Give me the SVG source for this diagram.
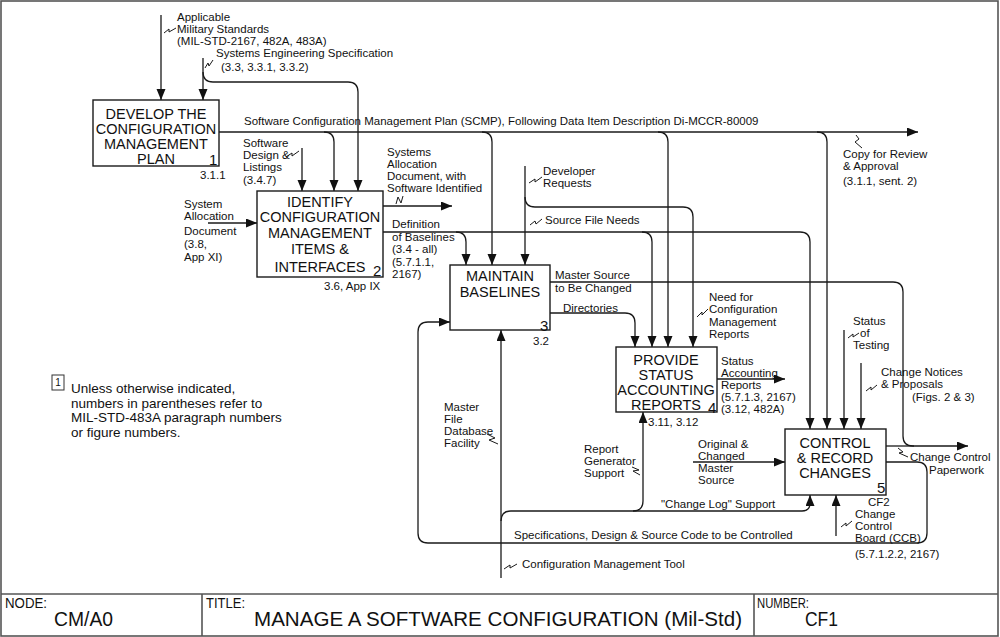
<svg xmlns="http://www.w3.org/2000/svg" width="1000" height="637" viewBox="0 0 1000 637">
<style>
text{font-family:"Liberation Sans",Arial,sans-serif;fill:#111}
.l{font-size:11.5px}
.b{font-size:14.5px;text-anchor:middle}
.n{font-size:15px}
.lg{font-size:13.5px}
.c{fill:none;stroke:#1a1a1a;stroke-width:1.3}
.a{marker-end:url(#ah)}
.sq{fill:none;stroke:#1a1a1a;stroke-width:1}
.box{fill:#fff;stroke:#1a1a1a;stroke-width:1.4}
.frame{fill:none;stroke:#555;stroke-width:1.6}
.tb{font-family:"Liberation Sans Narrow","Liberation Sans",Arial,sans-serif}
</style>
<defs>
<marker id="ah" markerUnits="userSpaceOnUse" markerWidth="12" markerHeight="10" refX="11" refY="4.5" orient="auto">
<path d="M0,0 L11,4.5 L0,9 Z" fill="#111"/>
</marker>
</defs>
<rect width="1000" height="637" fill="#fff"/>
<g id="frame">
<rect class="frame" x="1" y="1" width="997" height="635"/>
<line class="frame" x1="1" y1="594" x2="998" y2="594"/>
<line class="frame" x1="202" y1="594" x2="202" y2="636"/>
<line class="frame" x1="754" y1="594" x2="754" y2="636"/>
<text class="tb" x="5" y="608" font-size="15" textLength="42" lengthAdjust="spacingAndGlyphs">NODE:</text>
<text class="tb" x="54" y="626" font-size="20" textLength="59" lengthAdjust="spacingAndGlyphs">CM/A0</text>
<text class="tb" x="206" y="608" font-size="15" textLength="39" lengthAdjust="spacingAndGlyphs">TITLE:</text>
<text class="tb" x="254" y="626" font-size="20" textLength="488" lengthAdjust="spacingAndGlyphs">MANAGE A SOFTWARE CONFIGURATION (Mil-Std)</text>
<text class="tb" x="757" y="608" font-size="15" textLength="52" lengthAdjust="spacingAndGlyphs">NUMBER:</text>
<text class="tb" x="805" y="626" font-size="20" textLength="33" lengthAdjust="spacingAndGlyphs">CF1</text>
</g>
<g id="connectors">
<path class="c a" d="M161,15 V100"/>
<path class="c a" d="M203,58 V100"/>
<path class="c a" d="M203,72 Q203,82 213,82 H348 Q358,82 358,92 V191"/>
<path class="c a" d="M219,132 H918"/>
<path class="c a" d="M324,132 Q334,132 334,142 V191"/>
<path class="c a" d="M482,132 Q492,132 492,142 V265"/>
<path class="c a" d="M658,132 Q668,132 668,142 V347"/>
<path class="c a" d="M817,132 Q827,132 827,142 V429"/>
<path class="c a" d="M302,148 V191"/>
<path class="c a" d="M208,223 H257"/>
<path class="c a" d="M383,206 H452"/>
<path class="c a" d="M383,232 H800 Q810,232 810,242 V429"/>
<path class="c a" d="M456,232 Q466,232 466,242 V265"/>
<path class="c a" d="M642,232 Q652,232 652,242 V347"/>
<path class="c a" d="M525,166 V265"/>
<path class="c a" d="M525,197 Q525,207 535,207 H683 Q693,207 693,217 V347"/>
<path class="c a" d="M550,282 H893 Q903,282 903,292 V436 Q903,446 913,446 H968"/>
<path class="c" d="M886,446 H914"/>
<path class="c a" d="M550,313 H625 Q635,313 635,323 V347"/>
<path class="c a" d="M886,462 H917 Q927,462 927,472 V533 Q927,543 917,543 H428 Q418,543 418,533 V332 Q418,322 428,322 H450"/>
<path class="c a" d="M501,578 V330"/>
<path class="c a" d="M501,521 Q501,511 511,511 H802 Q810,511 810,503 V495"/>
<path class="c a" d="M633,511 Q643,511 643,501 V412"/>
<path class="c a" d="M717,379 H785"/>
<path class="c a" d="M844,330 V429"/>
<path class="c a" d="M861,363 V429"/>
<path class="c a" d="M693,462 H785"/>
<path class="c a" d="M836,536 V495"/>
<path class="sq" d="M164,33 L169,29 L169,32 L176,28"/>
<path class="sq" d="M205,68 L208,63 L209,66 L213,60"/>
<path class="sq" d="M286,157 L292,153 L292,156 L299,151"/>
<path class="sq" d="M396,204 L398,197 L401,203 L403,196"/>
<path class="sq" d="M529,183 L535,179 L535,182 L542,177"/>
<path class="sq" d="M530,225 L535,221 L536,224 L542,219"/>
<path class="sq" d="M697,317 L702,312 L702,315 L708,309"/>
<path class="sq" d="M856,135 L859,139 L855,142 L862,148"/>
<path class="sq" d="M848,338 L853,334 L853,337 L859,333"/>
<path class="sq" d="M866,391 L871,387 L871,390 L877,385"/>
<path class="sq" d="M487,434 L495,438 L489,440 L498,444"/>
<path class="sq" d="M632,467 L639,470 L633,471 L640,475"/>
<path class="sq" d="M504,569 L510,565 L510,568 L517,564"/>
<path class="sq" d="M841,527 L846,523 L846,526 L852,521"/>
<path class="sq" d="M898,448 L903,452 L899,453 L908,457"/>
</g>
<g id="labels">
<text class="l" x="177" y="21">Applicable</text>
<text class="l" x="177" y="33">Military Standards</text>
<text class="l" x="177" y="45">(MIL-STD-2167, 482A, 483A)</text>
<text class="l" x="216" y="57">Systems Engineering Specification</text>
<text class="l" x="221" y="71">(3.3, 3.3.1, 3.3.2)</text>
<text class="l" x="244" y="125">Software Configuration Management Plan (SCMP), Following Data Item Description Di-MCCR-80009</text>
<text class="l" x="243" y="147">Software</text>
<text class="l" x="243" y="159">Design &amp;</text>
<text class="l" x="243" y="171">Listings</text>
<text class="l" x="243" y="184">(3.4.7)</text>
<text class="l" x="387" y="156">Systems</text>
<text class="l" x="387" y="168">Allocation</text>
<text class="l" x="387" y="180">Document, with</text>
<text class="l" x="387" y="192">Software Identified</text>
<text class="l" x="184" y="208">System</text>
<text class="l" x="184" y="220">Allocation</text>
<text class="l" x="184" y="235">Document</text>
<text class="l" x="184" y="248">(3.8,</text>
<text class="l" x="184" y="261">App XI)</text>
<text class="l" x="392" y="228">Definition</text>
<text class="l" x="392" y="241">of Baselines</text>
<text class="l" x="392" y="253">(3.4 - all)</text>
<text class="l" x="392" y="266">(5.7.1.1,</text>
<text class="l" x="392" y="278">2167)</text>
<text class="l" x="543" y="175">Developer</text>
<text class="l" x="543" y="187">Requests</text>
<text class="l" x="545" y="224">Source File Needs</text>
<text class="l" x="555" y="279">Master Source</text>
<text class="l" x="555" y="292">to Be Changed</text>
<text class="l" x="563" y="312">Directories</text>
<text class="l" x="709" y="301">Need for</text>
<text class="l" x="709" y="313">Configuration</text>
<text class="l" x="709" y="326">Management</text>
<text class="l" x="709" y="338">Reports</text>
<text class="l" x="843" y="158">Copy for Review</text>
<text class="l" x="843" y="170">&amp; Approval</text>
<text class="l" x="843" y="185">(3.1.1, sent. 2)</text>
<text class="l" x="853" y="325">Status</text>
<text class="l" x="860" y="337">of</text>
<text class="l" x="853" y="349">Testing</text>
<text class="l" x="881" y="376">Change Notices</text>
<text class="l" x="881" y="388">&amp; Proposals</text>
<text class="l" x="912" y="401">(Figs. 2 &amp; 3)</text>
<text class="l" x="721" y="365">Status</text>
<text class="l" x="721" y="377">Accounting</text>
<text class="l" x="721" y="389">Reports</text>
<text class="l" x="721" y="401">(5.7.1.3, 2167)</text>
<text class="l" x="721" y="413">(3.12, 482A)</text>
<text class="l" x="444" y="411">Master</text>
<text class="l" x="444" y="423">File</text>
<text class="l" x="444" y="435">Database</text>
<text class="l" x="444" y="447">Facility</text>
<text class="l" x="584" y="453">Report</text>
<text class="l" x="584" y="465">Generator</text>
<text class="l" x="584" y="477">Support</text>
<text class="l" x="698" y="448">Original &amp;</text>
<text class="l" x="698" y="460">Changed</text>
<text class="l" x="698" y="472">Master</text>
<text class="l" x="698" y="484">Source</text>
<text class="l" x="661" y="508">"Change Log" Support</text>
<text class="l" x="514" y="539">Specifications, Design &amp; Source Code to be Controlled</text>
<text class="l" x="522" y="568">Configuration Management Tool</text>
<text class="l" x="868" y="506">CF2</text>
<text class="l" x="855" y="518">Change</text>
<text class="l" x="855" y="530">Control</text>
<text class="l" x="855" y="542">Board (CCB)</text>
<text class="l" x="855" y="558">(5.7.1.2.2, 2167)</text>
<text class="l" x="910" y="461">Change Control</text>
<text class="l" x="929" y="474">Paperwork</text>
</g>
<g id="node1">
<rect class="box" x="93" y="100" width="126" height="66"/>
<text class="b" x="156" y="119">DEVELOP THE</text>
<text class="b" x="156" y="134">CONFIGURATION</text>
<text class="b" x="156" y="149">MANAGEMENT</text>
<text class="b" x="156" y="164">PLAN</text>
<text class="n" x="209" y="165">1</text>
<text class="l" x="200" y="179">3.1.1</text>
</g>
<g id="node2">
<rect class="box" x="257" y="191" width="126" height="86"/>
<text class="b" x="320" y="207">IDENTIFY</text>
<text class="b" x="320" y="222">CONFIGURATION</text>
<text class="b" x="320" y="238">MANAGEMENT</text>
<text class="b" x="320" y="254">ITEMS &amp;</text>
<text class="b" x="320" y="272">INTERFACES</text>
<text class="n" x="373" y="276">2</text>
<text class="l" x="324" y="290">3.6, App IX</text>
</g>
<g id="node3">
<rect class="box" x="450" y="265" width="100" height="65"/>
<text class="b" x="500" y="281">MAINTAIN</text>
<text class="b" x="500" y="297">BASELINES</text>
<text class="n" x="540" y="331">3</text>
<text class="l" x="533" y="345">3.2</text>
</g>
<g id="node4">
<rect class="box" x="616" y="347" width="101" height="65"/>
<text class="b" x="666" y="365">PROVIDE</text>
<text class="b" x="666" y="380">STATUS</text>
<text class="b" x="666" y="395">ACCOUNTING</text>
<text class="b" x="666" y="410">REPORTS</text>
<text class="n" x="708" y="413">4</text>
<text class="l" x="648" y="426">3.11, 3.12</text>
</g>
<g id="node5">
<rect class="box" x="785" y="429" width="101" height="66"/>
<text class="b" x="835" y="448">CONTROL</text>
<text class="b" x="835" y="463">&amp; RECORD</text>
<text class="b" x="835" y="478">CHANGES</text>
<text class="n" x="877" y="493">5</text>
</g>
<g id="legend">
<rect x="52" y="375" width="12" height="15" fill="#fff" stroke="#333" stroke-width="1"/>
<text x="58" y="386" font-size="10" text-anchor="middle">1</text>
<text class="lg" x="71" y="393">Unless otherwise indicated,</text>
<text class="lg" x="71" y="407.5">numbers in parentheses refer to</text>
<text class="lg" x="71" y="422">MIL-STD-483A paragraph numbers</text>
<text class="lg" x="71" y="436.5">or figure numbers.</text>
</g>
</svg>
